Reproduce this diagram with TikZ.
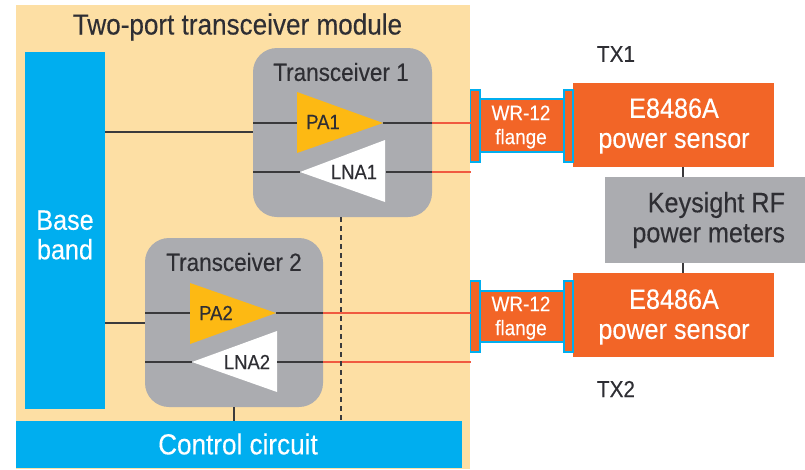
\documentclass[tikz,border=0pt]{standalone}
\usepackage{fontspec}
\setmainfont[FakeStretch=0.9,FakeBold=0.25]{Liberation Sans}
\definecolor{peach}{HTML}{FDDFA4}
\definecolor{cblue}{HTML}{00AEEF}
\definecolor{corange}{HTML}{F26527}
\definecolor{cgrey}{HTML}{ABACB0}
\definecolor{cyellow}{HTML}{FDB913}
\definecolor{cred}{HTML}{F05A40}
\definecolor{cdark}{HTML}{3A3A3C}
\definecolor{ctext}{HTML}{2E2E33}
\tikzset{
  block/.style={inner sep=0pt,outer sep=0pt,align=center},
  lab/.style={inner sep=0pt,outer sep=0pt,text=ctext,font=\fontsize{25}{30}\selectfont},
  tri/.style={inner sep=0pt,outer sep=0pt,text=ctext,font=\fontsize{20.5}{24}\selectfont},
  white text/.style={text=white,font=\fontsize{28}{29.5}\selectfont,align=center},
  flangelab/.style={text=white,font=\fontsize{21}{24}\selectfont,align=center},
  wire/.style={cdark,line width=1.2pt},
  rfwire/.style={cred,line width=1.2pt},
  flangeplate/.style={block,fill=corange,draw=cblue,line width=1.5pt},
}
\newcommand{\bx}[6]{\node[block,#2,minimum width=#5 pt-#3 pt,minimum height=#6 pt-#4 pt,anchor=north west] (#1) at (#3,#4) {};}
\begin{document}
\begin{tikzpicture}[x=1pt,y=-1pt]
\useasboundingbox (0,0) rectangle (805,469);
\fill[white] (0,0) rectangle (805,469);
% module
\bx{module}{fill=peach}{16}{5}{470}{469}
\bx{baseband}{fill=cblue}{25}{52}{105}{409}
\bx{control}{fill=cblue}{16}{421}{462}{468}
\node[block,fill=cgrey,rounded corners=24pt,minimum width=179pt,minimum height=169pt,anchor=north west] (tra) at (253,48) {};
\node[block,fill=cgrey,rounded corners=24pt,minimum width=178pt,minimum height=169pt,anchor=north west] (trb) at (145,238) {};
% right side boxes
\bx{senA}{fill=corange}{573}{83}{774}{167}
\bx{senB}{fill=corange}{573}{273}{774}{357}
\bx{meter}{fill=cgrey}{605}{177}{805}{263}
\bx{midA}{flangeplate}{480}{99}{564}{152}
\bx{midB}{flangeplate}{480}{291}{564}{342}
\bx{plAl}{flangeplate}{470.5}{90}{480}{162}
\bx{plAr}{flangeplate}{564}{90}{573}{162}
\bx{plBl}{flangeplate}{470.5}{281}{480}{352}
\bx{plBr}{flangeplate}{564}{281}{573}{352}
% triangles
\fill[cyellow] (297,92) coordinate (pa1in) -- (297,153) -- (383,123) coordinate (pa1out) -- cycle;
\fill[white] (300,172) coordinate (lna1in) -- (385,140) -- (385,202) -- cycle;
\fill[cyellow] (190,283) -- (190,344) -- (276,313) coordinate (pa2out) -- cycle;
\fill[white] (192,362) coordinate (lna2in) -- (277,331) -- (277,392) -- cycle;
\coordinate (a1) at (297,123); \coordinate (a2) at (386,172);
\coordinate (b1) at (190,313); \coordinate (b2) at (277,362);
% connectors
\draw[wire] (baseband.east |- 0,132) -- (tra.west |- 0,132);
\draw[wire] (baseband.east |- 0,323) -- (trb.west |- 0,323);
\draw[wire] (tra.west |- a1) -- (a1);
\draw[wire] (tra.west |- lna1in) -- (lna1in);
\draw[wire] (pa1out) -- (tra.east |- pa1out);
\draw[wire] (a2) -- (tra.east |- a2);
\draw[rfwire] (tra.east |- pa1out) -- (plAl.west |- pa1out);
\draw[rfwire] (tra.east |- a2) -- (plAl.west |- a2);
\draw[wire] (trb.west |- b1) -- (b1);
\draw[wire] (trb.west |- lna2in) -- (lna2in);
\draw[wire] (pa2out) -- (trb.east |- pa2out);
\draw[wire] (b2) -- (trb.east |- b2);
\draw[rfwire] (trb.east |- pa2out) -- (plBl.west |- pa2out);
\draw[rfwire] (trb.east |- b2) -- (plBl.west |- b2);
\draw[wire] (234,407) -- (234,421);
\draw[cdark,line width=1.2pt,dash pattern=on 5pt off 4pt] (341,217) -- (341,421);
\draw[wire] (683,167) -- (683,177);
\draw[wire] (683,263) -- (683,273);
% labels
\node[lab,font=\fontsize{29}{30}\selectfont] (title) at (237.5,27) {Two-port transceiver module};
\node[lab] (ttra) at (341,72) {Transceiver 1};
\node[lab] (ttrb) at (234,262) {Transceiver 2};
\node[tri] (pa1) at (323,122) {PA1};
\node[tri] (lna1) at (354,172) {LNA1};
\node[tri] (pa2) at (216,313) {PA2};
\node[tri] (lna2) at (247,362) {LNA2};
\node[white text] (bb) at (65,235) {Base\\band};
\node[white text,font=\fontsize{29}{30}\selectfont] (cc) at (238,444) {Control circuit};
\node[flangelab] (fa) at (521,127) {WR-12\\flange};
\node[flangelab] (fb) at (521,318) {WR-12\\flange};
\node[white text,font=\fontsize{28}{30}\selectfont] (sa) at (674,126) {E8486A\\power sensor};
\node[white text,font=\fontsize{28}{30}\selectfont] (sb) at (674,317) {E8486A\\power sensor};
\node[lab,font=\fontsize{28}{30}\selectfont,align=right,anchor=east] (mt) at (785,220) {Keysight RF\\power meters};
\node[lab,font=\fontsize{23}{26}\selectfont] (tx1) at (616,54) {TX1};
\node[lab,font=\fontsize{23}{26}\selectfont] (tx2) at (616,389) {TX2};
\end{tikzpicture}
\end{document}
